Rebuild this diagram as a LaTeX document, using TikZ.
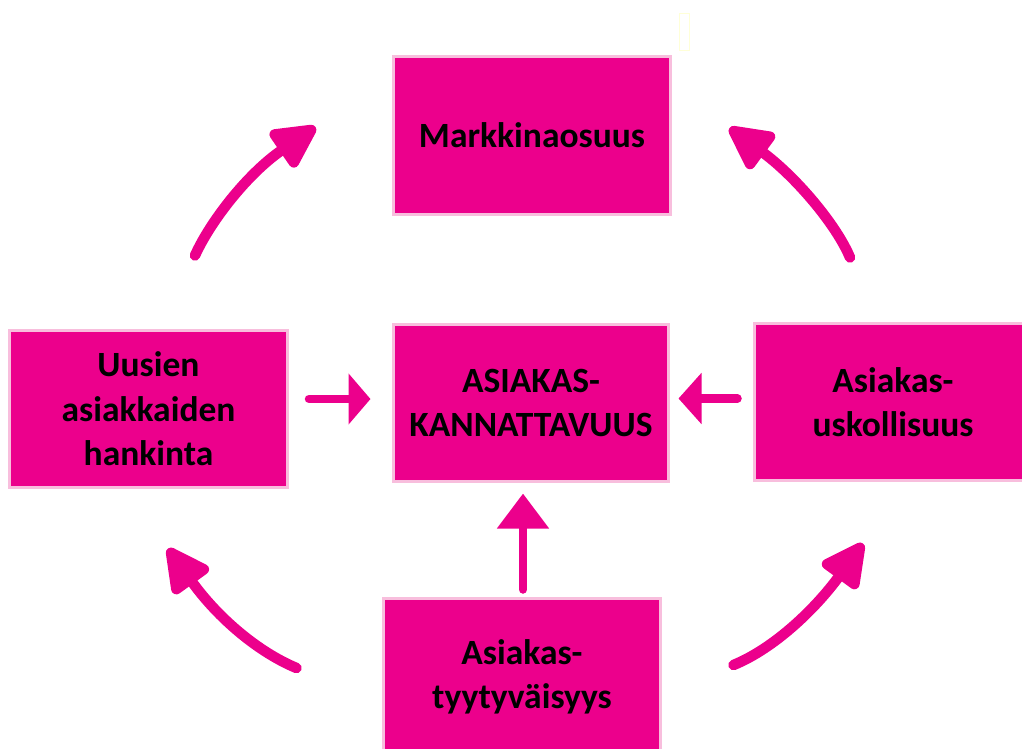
\documentclass[tikz,border=0pt]{standalone}
\usepackage{fontspec}
\setmainfont{Carlito}
\usetikzlibrary{arrows.meta,calc}
\definecolor{mag}{RGB}{236,0,140}
\definecolor{pinkborder}{RGB}{248,190,221}
\definecolor{faintyellow}{RGB}{255,255,215}
\begin{document}
\begin{tikzpicture}[x=1bp,y=-1bp,
  box/.style={draw=pinkborder,line width=3bp,fill=mag,minimum width=277bp,minimum height=157bp,
    inner sep=0pt,align=center,font=\fontsize{35.5bp}{44.5bp}\selectfont\bfseries,text=black},
  straight/.style={draw=mag,line width=8.5bp,line cap=round},
  curved/.style={draw=mag,line width=10.5bp,line cap=round,-{Triangle[length=50bp,width=48bp,round]}}]
\useasboundingbox (0,0) rectangle (1022,749);
\node[box] (top) at (532,135.5) {Markkinaosuus};
\node[box,minimum width=278bp] (left) at (148.5,409) {Uusien\\asiakkaiden\\hankinta};
\node[box,minimum width=275bp] (center) at (531,403) {ASIAKAS-\\KANNATTAVUUS};
\node[box] (right) at (893,402) {Asiakas-\\uskollisuus};
\node[box] (bottom) at (522,677) {Asiakas-\\tyytyväisyys};
% faint box at top
\draw[faintyellow,line width=1.5bp] (679.5,13.5) rectangle (689.5,50.5);
% straight arrows
\draw[straight,-{Triangle[length=22bp,width=50bp]}] ($(left.east)+(20,-10)$) -- ($(center.west)+(-21.5,-4)$);
\draw[straight,-{Triangle[length=23bp,width=50bp]}] ($(right.west)+(-15.5,-3.5)$) -- ($(center.east)+(8.5,-4.5)$);
\draw[straight,-{Triangle[length=35bp,width=50bp]}] ($(bottom.north)+(1,-7.5)$) -- ($(center.south)+(-8,10.5)$);
% curved arrows
\draw[curved] ($(left.north)+(46.5,-73.5)$) .. controls (210,222) and (247,174) .. ($(top.west)+(-76.5,-8.5)$);
\draw[curved] ($(right.north)+(-43,-64.5)$) .. controls (836,224) and (795,176) .. ($(top.east)+(57.5,-7.5)$);
\draw[curved] ($(bottom.west)+(-85.5,-9)$) .. controls (258,652) and (218,618) .. ($(left.south)+(19.5,59.5)$);
\draw[curved] ($(bottom.east)+(71.5,-12)$) .. controls (775,648) and (816,608) .. ($(right.south)+(-30,61.5)$);
\end{tikzpicture}
\end{document}
